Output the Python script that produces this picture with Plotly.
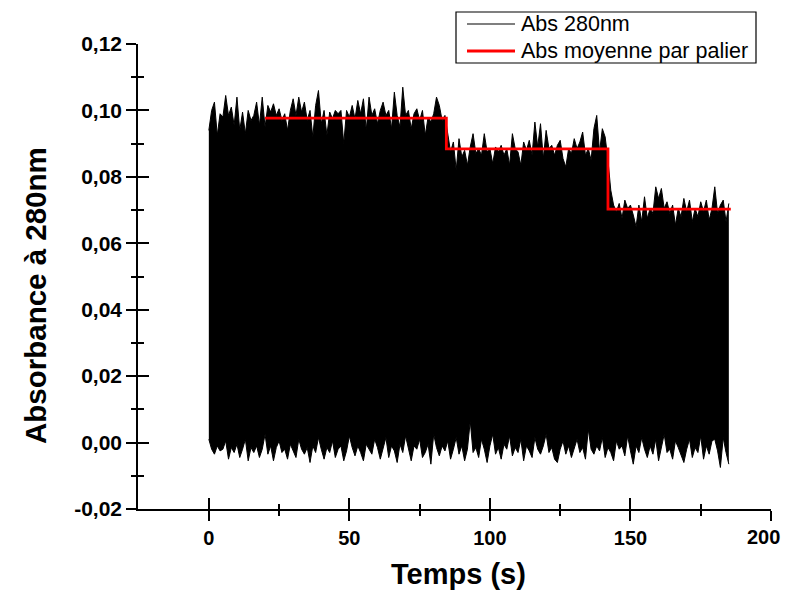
import plotly.graph_objects as go

# Upper envelope of the Abs 280nm signal, one value per second (t = 0 .. 185 s)
abs_upper = [
    0.094, 0.1, 0.1025, 0.0925, 0.099, 0.098, 0.1045, 0.0985, 0.101, 0.0955,
    0.104, 0.094, 0.0995, 0.093, 0.1, 0.097, 0.0985, 0.1025, 0.0955, 0.104,
    0.095, 0.1015, 0.0995, 0.102, 0.0985, 0.1005, 0.097, 0.099, 0.094, 0.1,
    0.1035, 0.0985, 0.104, 0.0995, 0.1025, 0.097, 0.1, 0.092, 0.1015, 0.106,
    0.096, 0.1, 0.0925, 0.0995, 0.0975, 0.1, 0.099, 0.1, 0.09, 0.1,
    0.098, 0.1015, 0.0975, 0.103, 0.099, 0.1035, 0.094, 0.104, 0.0985, 0.1005,
    0.096, 0.1, 0.1025, 0.0985, 0.1, 0.0945, 0.1055, 0.0985, 0.095, 0.107,
    0.0985, 0.1, 0.0945, 0.099, 0.1005, 0.097, 0.1, 0.0925, 0.098, 0.0965,
    0.099, 0.104, 0.1015, 0.097, 0.0985, 0.0925, 0.0875, 0.0905, 0.082, 0.0915,
    0.086, 0.088, 0.0835, 0.089, 0.093, 0.087, 0.0885, 0.0865, 0.093, 0.0875,
    0.0885, 0.084, 0.089, 0.0875, 0.0895, 0.0865, 0.0885, 0.0835, 0.093, 0.0885,
    0.0875, 0.0835, 0.0905, 0.088, 0.091, 0.0865, 0.0965, 0.089, 0.096, 0.0855,
    0.094, 0.0885, 0.0895, 0.0865, 0.0895, 0.091, 0.0855, 0.083, 0.0885, 0.087,
    0.0915, 0.0885, 0.0905, 0.0935, 0.0865, 0.0885, 0.085, 0.0945, 0.0985, 0.0875,
    0.0945, 0.092, 0.085, 0.076, 0.0715, 0.0695, 0.072, 0.0675, 0.073, 0.0705,
    0.0715, 0.0685, 0.065, 0.0715, 0.0665, 0.074, 0.0675, 0.0705, 0.069, 0.077,
    0.0735, 0.0765, 0.0705, 0.0725, 0.069, 0.0715, 0.0655, 0.0705, 0.068, 0.0735,
    0.0695, 0.073, 0.0665, 0.0705, 0.068, 0.0725, 0.0695, 0.073, 0.067, 0.0705,
    0.077, 0.069, 0.0715, 0.073, 0.0665, 0.072,
]

# Lower envelope of the Abs 280nm signal, one value per second (t = 0 .. 185 s)
abs_lower = [
    0.001, -0.002, -0.0035, -0.001, -0.0025, -0.002, 0.0005, -0.005, -0.0015, -0.003,
    -0.0005, -0.0045, -0.002, 0.001, -0.0055, -0.0015, -0.003, -0.001, -0.0045, -0.002,
    0.0025, -0.0035, -0.001, -0.0055, -0.0015, 0.0005, -0.003, -0.002, -0.005, -0.0005,
    -0.0025, -0.0045, 0.001, -0.002, -0.0035, -0.0015, -0.006, -0.001, -0.003, 0.0015,
    -0.002, -0.005, -0.0015, -0.003, 0.0005, -0.0045, -0.002, -0.001, -0.0055, -0.0025,
    0.002, -0.0015, -0.004, -0.001, -0.003, -0.0055, -0.0005, -0.002, -0.0035, 0.001,
    -0.0015, -0.005, -0.002, 0.0015, -0.0045, -0.001, -0.0025, -0.006, -0.0005, -0.003,
    0.002, -0.0015, -0.0055, -0.001, -0.002, 0.001, -0.0045, -0.003, -0.0005, -0.0065,
    0.0025, -0.0015, -0.004, -0.001, -0.0025, 0.0005, -0.005, -0.002, 0.0015, -0.0035,
    -0.001, -0.0055, -0.002, 0.0065, -0.003, -0.0015, -0.0045, 0.001, -0.002, -0.006,
    -0.001, 0.0025, -0.0035, -0.0015, -0.005, -0.0005, -0.002, 0.002, -0.004, -0.0015,
    -0.003, 0.001, -0.0055, -0.001, -0.0025, -0.0045, 0.0015, -0.002, -0.0035, -0.001,
    0.0025, -0.003, -0.0015, -0.005, -0.006, -0.002, 0.0005, -0.0035, -0.001, -0.0045,
    -0.002, 0.001, -0.003, -0.0015, -0.005, 0.004, -0.002, -0.0035, -0.001, -0.0025,
    0.0015, -0.0045, -0.0015, -0.003, -0.0055, 0.0005, -0.002, -0.001, -0.004, 0.002,
    -0.0025, -0.0065, -0.001, -0.003, 0.0015, -0.002, -0.0045, -0.001, -0.0035, 0.001,
    -0.0055, -0.0015, 0.0025, -0.003, -0.002, -0.005, 0.0005, -0.0015, -0.004, -0.006,
    -0.002, 0.001, -0.0045, -0.0015, -0.003, 0.002, -0.005, -0.001, -0.0035, 0.0005,
    0.001, -0.0025, -0.0075, 0.0015, -0.003, -0.0065,
]

# Mean absorbance per plateau (step line)
step_times = [20, 84.5, 142, 185.7]
step_levels = [0.0977, 0.0884, 0.0703, 0.0703]

series_names = ["Abs 280nm", "Abs moyenne par palier"]
series_colors = ["black", "#ff0000"]

y_tickvals = [-0.02, 0.0, 0.02, 0.04, 0.06, 0.08, 0.10, 0.12]
y_ticktext = ["-0,02", "0,00", "0,02", "0,04", "0,06", "0,08", "0,10", "0,12"]
y_minor = [-0.01, 0.01, 0.03, 0.05, 0.07, 0.09, 0.11]
x_tickvals = [0, 50, 100, 150, 200]
x_ticktext = ["0", "50", "100", "150", ""]   # last label drawn separately
x_last_label = "200"
x_minor = [25, 75, 125, 175]

n = min(len(abs_upper), len(abs_lower))
time_s = list(range(n))

FONT = "Liberation Sans, Arial, sans-serif"

fig = go.Figure()
fig.add_trace(go.Scatter(x=time_s, y=abs_lower[:n], mode="lines",
                         line=dict(color=series_colors[0], width=1),
                         showlegend=False, hoverinfo="skip"))
fig.add_trace(go.Scatter(x=time_s, y=abs_upper[:n], mode="lines",
                         line=dict(color=series_colors[0], width=1), fill="tonexty",
                         fillcolor=series_colors[0], name=series_names[0],
                         showlegend=False))
fig.add_trace(go.Scatter(x=step_times, y=step_levels, mode="lines",
                         line=dict(color=series_colors[1], width=2.8, shape="hv"),
                         name=series_names[1], showlegend=False))
# dummy trace for the overlay axes (inner half of the crossing ticks)
fig.add_trace(go.Scatter(x=[None], y=[None], xaxis="x2", yaxis="y2",
                         showlegend=False, hoverinfo="skip"))

xr = [-25.2, 200]
yr = [-0.02, 0.12]

# screen-pixel helpers (plot area on screen: x 138..771, y 44..509)
PL, PR, PT, PB = 138, 771, 44, 509


def px(X):
    return (X - PL) / float(PR - PL)


def py(Y):
    return (PB - Y) / float(PB - PT)


shapes = [
    # legend box
    dict(type="rect", xref="paper", yref="paper",
         x0=px(456), x1=px(756), y0=py(63), y1=py(12),
         line=dict(color="black", width=1.2), fillcolor="white", layer="above"),
    dict(type="line", xref="paper", yref="paper",
         x0=px(467), x1=px(515), y0=py(24), y1=py(24),
         line=dict(color=series_colors[0], width=1.2), layer="above"),
    dict(type="line", xref="paper", yref="paper",
         x0=px(467), x1=px(515), y0=py(51), y1=py(51),
         line=dict(color=series_colors[1], width=2.8), layer="above"),
]

annotations = [
    dict(text=series_names[0], xref="paper", yref="paper",
         x=px(519), y=py(24), xanchor="left", yanchor="middle",
         showarrow=False, font=dict(size=21.5, family=FONT, color="black")),
    dict(text=series_names[1], xref="paper", yref="paper",
         x=px(519), y=py(51), xanchor="left", yanchor="middle",
         showarrow=False, font=dict(size=21.5, family=FONT, color="black")),
    dict(text="<b>Temps (s)</b>", xref="paper", yref="paper",
         x=px(458), y=py(574), xanchor="center", yanchor="middle",
         showarrow=False, font=dict(size=29, family=FONT, color="black")),
    dict(text="<b>Absorbance à 280nm</b>", xref="paper", yref="paper",
         x=px(35), y=py(296), textangle=-90,
         xanchor="center", yanchor="middle", showarrow=False,
         font=dict(size=29.5, family=FONT, color="black")),
    # last x tick label, nudged so it stays inside the page
    dict(text="<b>%s</b>" % x_last_label, xref="x", yref="paper",
         x=x_tickvals[-1], y=py(537), xanchor="center", yanchor="middle",
         xshift=-8, showarrow=False,
         font=dict(size=20, family=FONT, color="black")),
]

# page body has an 8px margin: figure is offset by 8px right and down
fig.update_layout(
    width=782, height=583,
    margin=dict(l=PL - 8, r=790 - PR, t=PT - 8, b=591 - PB, autoexpand=False),
    paper_bgcolor="white", plot_bgcolor="white",
    font=dict(family=FONT, color="black"),
    showlegend=False,
    shapes=shapes,
    annotations=annotations,
    xaxis=dict(range=xr, showgrid=False, zeroline=False, showline=True,
               linecolor="black", linewidth=1.5, automargin=False,
               ticklabeloverflow="allow",
               ticks="outside", ticklen=10, tickwidth=1.5, tickcolor="black",
               tickvals=x_tickvals, ticktext=x_ticktext,
               tickfont=dict(size=20, family=FONT, weight="bold"),
               minor=dict(tickvals=x_minor, ticks="outside", ticklen=5,
                          tickwidth=1.5, tickcolor="black"),
               anchor="y"),
    yaxis=dict(range=yr, showgrid=False, zeroline=False, showline=True,
               linecolor="black", linewidth=1.5, automargin=False,
               ticklabeloverflow="allow",
               ticks="outside", ticklen=10, tickwidth=1.5, tickcolor="black",
               tickvals=y_tickvals, ticktext=y_ticktext,
               tickfont=dict(size=21, family=FONT, weight="bold"),
               minor=dict(tickvals=y_minor, ticks="outside", ticklen=5,
                          tickwidth=1.5, tickcolor="black"),
               anchor="x"),
    xaxis2=dict(range=xr, overlaying="x", anchor="y2", side="bottom",
                showgrid=False, zeroline=False, showline=False, automargin=False,
                ticks="inside", ticklen=11, tickwidth=1.5, tickcolor="black",
                tickvals=x_tickvals, showticklabels=False,
                minor=dict(tickvals=x_minor, ticks="inside", ticklen=5,
                           tickwidth=1.5, tickcolor="black")),
    yaxis2=dict(range=yr, overlaying="y", anchor="x2", side="left",
                showgrid=False, zeroline=False, showline=False, automargin=False,
                ticks="inside", ticklen=11, tickwidth=1.5, tickcolor="black",
                tickvals=y_tickvals, showticklabels=False,
                minor=dict(tickvals=y_minor, ticks="inside", ticklen=6,
                           tickwidth=1.5, tickcolor="black")),
)

fig.write_html("out.html")
